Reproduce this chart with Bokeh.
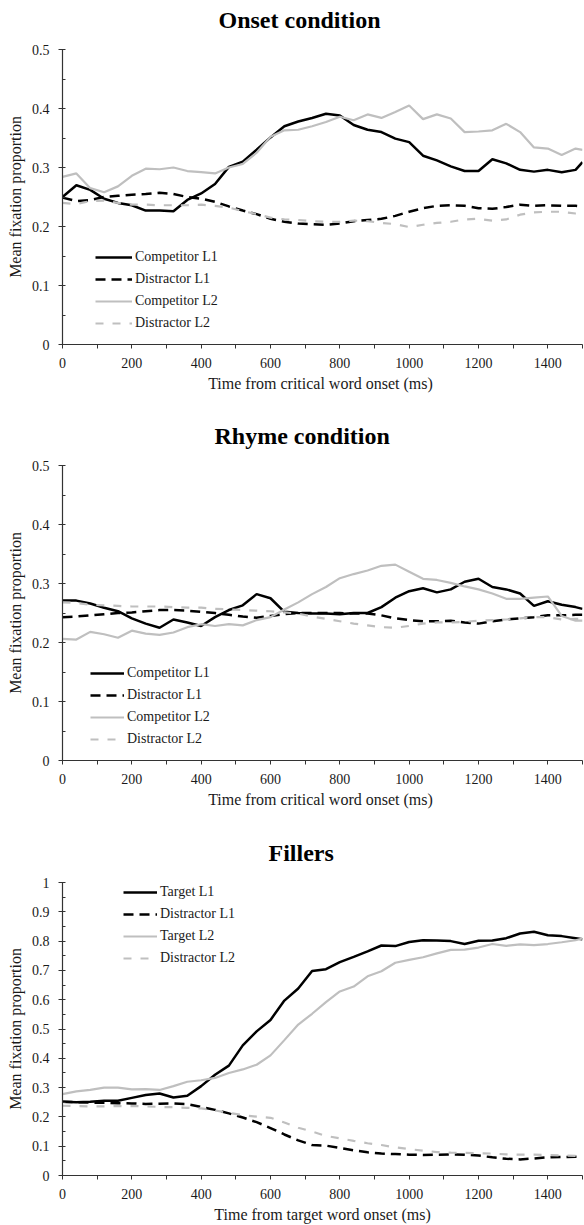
from bokeh.plotting import figure
from bokeh.layouts import column
from bokeh.models import FixedTicker, Legend, LegendItem, NumeralTickFormatter, Title
from bokeh.embed import file_html
from bokeh.resources import INLINE

# ---------------- data ----------------
time_ms = list(range(0, 1481, 40)) + [1500]

onset_comp_l1 = [0.250, 0.270, 0.262, 0.247, 0.240, 0.236, 0.227, 0.227, 0.226, 0.245,
                 0.256, 0.272, 0.301, 0.310, 0.330, 0.351, 0.370, 0.378, 0.384, 0.391,
                 0.388, 0.372, 0.364, 0.360, 0.349, 0.343, 0.320, 0.312, 0.302, 0.294,
                 0.294, 0.314, 0.307, 0.296, 0.293, 0.296, 0.292, 0.296, 0.309]
onset_dist_l1 = [0.249, 0.243, 0.245, 0.250, 0.252, 0.254, 0.255, 0.257, 0.255, 0.250,
                 0.247, 0.242, 0.234, 0.227, 0.221, 0.213, 0.208, 0.205, 0.204, 0.203,
                 0.205, 0.209, 0.211, 0.213, 0.218, 0.225, 0.231, 0.235, 0.236, 0.235,
                 0.231, 0.230, 0.233, 0.237, 0.235, 0.236, 0.235, 0.235, 0.234]
onset_comp_l2 = [0.284, 0.290, 0.265, 0.258, 0.268, 0.286, 0.298, 0.297, 0.300, 0.294,
                 0.292, 0.290, 0.300, 0.306, 0.325, 0.352, 0.363, 0.364, 0.370, 0.377,
                 0.386, 0.380, 0.390, 0.384, 0.394, 0.405, 0.382, 0.390, 0.383, 0.360,
                 0.361, 0.363, 0.374, 0.360, 0.334, 0.332, 0.321, 0.332, 0.330]
onset_dist_l2 = [0.240, 0.238, 0.243, 0.244, 0.240, 0.237, 0.237, 0.236, 0.236, 0.236,
                 0.237, 0.235, 0.232, 0.226, 0.221, 0.215, 0.212, 0.211, 0.209, 0.208,
                 0.208, 0.210, 0.209, 0.206, 0.204, 0.199, 0.203, 0.206, 0.208, 0.212,
                 0.213, 0.210, 0.212, 0.220, 0.224, 0.225, 0.225, 0.222, 0.221]

rhyme_comp_l1 = [0.271, 0.271, 0.266, 0.259, 0.253, 0.241, 0.232, 0.225, 0.239, 0.234,
                 0.228, 0.243, 0.255, 0.263, 0.282, 0.275, 0.252, 0.250, 0.249, 0.249,
                 0.248, 0.250, 0.250, 0.260, 0.276, 0.287, 0.292, 0.285, 0.290, 0.303,
                 0.308, 0.294, 0.290, 0.283, 0.262, 0.270, 0.264, 0.260, 0.257]
rhyme_dist_l1 = [0.243, 0.244, 0.246, 0.248, 0.250, 0.251, 0.253, 0.255, 0.255, 0.254,
                 0.252, 0.250, 0.247, 0.244, 0.242, 0.245, 0.248, 0.250, 0.250, 0.250,
                 0.250, 0.249, 0.249, 0.246, 0.241, 0.238, 0.236, 0.236, 0.237, 0.234,
                 0.232, 0.236, 0.239, 0.241, 0.243, 0.246, 0.246, 0.247, 0.247]
rhyme_comp_l2 = [0.206, 0.205, 0.218, 0.214, 0.208, 0.220, 0.215, 0.213, 0.217, 0.226,
                 0.231, 0.228, 0.231, 0.229, 0.238, 0.243, 0.256, 0.268, 0.282, 0.294,
                 0.309, 0.316, 0.322, 0.330, 0.332, 0.320, 0.308, 0.306, 0.301, 0.295,
                 0.290, 0.283, 0.274, 0.274, 0.276, 0.278, 0.245, 0.237, 0.237]
rhyme_dist_l2 = [0.268, 0.267, 0.264, 0.263, 0.262, 0.261, 0.261, 0.261, 0.260, 0.259,
                 0.259, 0.257, 0.256, 0.255, 0.254, 0.253, 0.251, 0.249, 0.244, 0.240,
                 0.236, 0.232, 0.229, 0.226, 0.225, 0.228, 0.232, 0.234, 0.234, 0.235,
                 0.237, 0.238, 0.239, 0.241, 0.243, 0.243, 0.239, 0.240, 0.240]

filler_targ_l1 = [0.252, 0.250, 0.252, 0.255, 0.255, 0.265, 0.275, 0.280, 0.266, 0.272,
                  0.305, 0.344, 0.375, 0.444, 0.492, 0.531, 0.597, 0.638, 0.698, 0.704,
                  0.728, 0.746, 0.765, 0.785, 0.783, 0.797, 0.803, 0.802, 0.800, 0.790,
                  0.801, 0.802, 0.810, 0.826, 0.832, 0.820, 0.817, 0.810, 0.806]
filler_dist_l1 = [0.252, 0.250, 0.249, 0.248, 0.247, 0.246, 0.244, 0.245, 0.246, 0.244,
                  0.234, 0.224, 0.212, 0.198, 0.182, 0.162, 0.140, 0.120, 0.104, 0.102,
                  0.094, 0.086, 0.079, 0.075, 0.073, 0.071, 0.070, 0.071, 0.072, 0.071,
                  0.068, 0.062, 0.057, 0.055, 0.058, 0.062, 0.063, 0.064, 0.065]
filler_targ_l2 = [0.278, 0.287, 0.292, 0.300, 0.300, 0.294, 0.295, 0.292, 0.305, 0.320,
                  0.325, 0.333, 0.350, 0.362, 0.378, 0.410, 0.462, 0.515, 0.552, 0.592,
                  0.628, 0.645, 0.680, 0.697, 0.726, 0.736, 0.745, 0.758, 0.770, 0.771,
                  0.778, 0.790, 0.784, 0.789, 0.786, 0.790, 0.796, 0.803, 0.809]
filler_dist_l2 = [0.238, 0.237, 0.236, 0.236, 0.237, 0.237, 0.236, 0.234, 0.233, 0.231,
                  0.229, 0.222, 0.214, 0.206, 0.201, 0.197, 0.181, 0.163, 0.150, 0.135,
                  0.127, 0.118, 0.110, 0.104, 0.096, 0.090, 0.085, 0.080, 0.078, 0.077,
                  0.076, 0.075, 0.072, 0.071, 0.071, 0.070, 0.068, 0.067, 0.067]

x_ticks = list(range(0, 1501, 100))
y_ticks_half = [0, 0.1, 0.2, 0.3, 0.4, 0.5]
y_ticks_full = [0, 0.1, 0.2, 0.3, 0.4, 0.5, 0.6, 0.7, 0.8, 0.9, 1.0]

FONT = "Liberation Serif"
TXT = "#1a1a1a"
BLACK = "#000000"
GRAY = "#bfbfbf"


def make_panel(title, xlabel, series, labels, ymax, yticks, height, btop, bbottom,
               leg_x, leg_y, glyph_w, title_offset):
    p = figure(width=584, height=height, x_range=(0, 1500), y_range=(0, ymax),
               output_backend="svg", toolbar_location=None,
               min_border_left=62, min_border_right=2,
               min_border_top=btop, min_border_bottom=bbottom)
    p.outline_line_color = None
    p.xgrid.visible = False
    p.ygrid.visible = False
    p.background_fill_color = "white"
    p.border_fill_color = "white"

    # small spacer between the title and the frame
    p.add_layout(Title(text=" ", text_font_size="10px", standoff=0), "above")

    p.title.text = title
    p.title.text_font = FONT
    p.title.text_font_size = "24px"
    p.title.text_font_style = "bold"
    p.title.text_color = "#000000"
    p.title.align = "left"
    p.title.offset = title_offset
    p.title.standoff = 8

    xa = p.xaxis[0]
    xa.ticker = FixedTicker(ticks=x_ticks, minor_ticks=[])
    xa.major_label_overrides = {t: "" for t in range(100, 1501, 200)}
    xa.axis_label = xlabel
    ya = p.yaxis[0]
    minors = [round(v + (yticks[1] - yticks[0]) / 2, 3) for v in yticks[:-1]]
    ya.ticker = FixedTicker(ticks=yticks, minor_ticks=minors)
    ya.formatter = NumeralTickFormatter(format="0.[0]")
    ya.axis_label = "Mean fixation proportion"

    for ax in (xa, ya):
        ax.axis_line_color = "#333333"
        ax.axis_line_width = 1.2
        ax.major_tick_line_color = "#333333"
        ax.minor_tick_line_color = "#333333"
        ax.major_label_text_font = FONT
        ax.major_label_text_font_size = "14px"
        ax.major_label_text_color = TXT
        ax.axis_label_text_font = FONT
        ax.axis_label_text_font_size = "16px"
        ax.axis_label_text_font_style = "normal"
        ax.axis_label_text_color = TXT
    xa.axis_label_standoff = 4
    ya.axis_label_standoff = 5
    xa.major_tick_out = 4
    xa.major_tick_in = 0
    xa.minor_tick_out = 0
    xa.minor_tick_in = 0
    xa.major_label_standoff = 9
    ya.major_tick_out = 4
    ya.major_tick_in = 3
    ya.minor_tick_out = 0
    ya.minor_tick_in = 3
    ya.major_label_standoff = 9

    styles = [(BLACK, 2.5, "solid"), (BLACK, 2.5, "10 6"),
              (GRAY, 2.2, "solid"), (GRAY, 2.2, "8 9")]
    items = []
    for vals, lab, (col, lw, dash) in zip(series, labels, styles):
        r = p.line(time_ms, vals, line_color=col, line_width=lw, line_dash=dash)
        items.append(LegendItem(label=lab, renderers=[r]))

    leg = Legend(items=items, location=(leg_x, leg_y))
    leg.label_text_font = FONT
    leg.label_text_font_size = "14px"
    leg.label_text_color = TXT
    leg.glyph_width = glyph_w
    leg.glyph_height = 20
    leg.label_height = 20
    leg.spacing = 2
    leg.padding = 0
    leg.margin = 0
    leg.label_standoff = 3
    leg.border_line_color = None
    leg.background_fill_alpha = 0
    p.add_layout(leg)
    return p


p1 = make_panel("Onset condition", "Time from critical  word onset (ms)",
                [onset_comp_l1, onset_dist_l1, onset_comp_l2, onset_dist_l2],
                ["Competitor L1", "Distractor L1", "Competitor L2", "Distractor L2"],
                0.5, y_ticks_half, 400, 49, 56, 33, 11, 37, 156)
p2 = make_panel("Rhyme condition", "Time from critical  word onset (ms)",
                [rhyme_comp_l1, rhyme_dist_l1, rhyme_comp_l2, rhyme_dist_l2],
                ["Competitor L1", "Distractor L1", "Competitor L2", "Distractor L2"],
                0.5, y_ticks_half, 415, 65, 55, 28, 11, 34, 152)
p3 = make_panel("Fillers", "Time from target word onset (ms)",
                [filler_targ_l1, filler_dist_l1, filler_targ_l2, filler_dist_l2],
                ["Target L1", "Distractor L1", "Target L2", "Distractor L2"],
                1.0, y_ticks_full, 410, 67, 48, 61, 207, 34, 206)

layout = column(p1, p2, p3, spacing=0)
open("out.html", "w").write(file_html(layout, INLINE))
